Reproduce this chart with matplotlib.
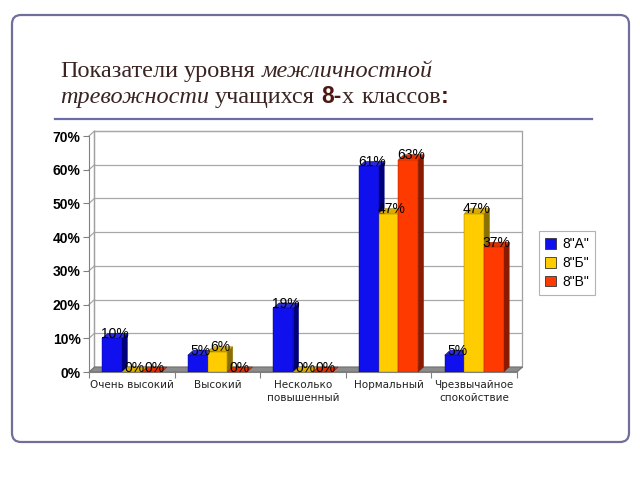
import matplotlib
matplotlib.use('Agg')
import matplotlib.pyplot as plt
from matplotlib.patches import Polygon, FancyBboxPatch, Patch
from matplotlib.transforms import IdentityTransform
from matplotlib.lines import Line2D

# ---------------- data ----------------
categories = ['Очень высокий', 'Высокий', 'Несколько\nповышенный',
              'Нормальный', 'Чрезвычайное\nспокойствие']
series_names = ['8"А"', '8"Б"', '8"В"']
class_a = [10, 5, 19, 61, 5]
class_b = [0, 6, 0, 47, 47]
class_v = [0, 0, 0, 63, 37]
series_values = [class_a, class_b, class_v]
y_ticks = [0, 10, 20, 30, 40, 50, 60, 70]
y_tick_labels = ['0%', '10%', '20%', '30%', '40%', '50%', '60%', '70%']

front_colors = ['#1010ee', '#ffcc00', '#ff3a00']
side_colors = ['#00007a', '#8a7000', '#8a1a00']
top_colors = ['#2a2ad8', '#d8ac00', '#e03000']

fig = plt.figure(figsize=(6.4, 4.8), dpi=100)
fig.patch.set_facecolor('white')

# outer rounded frame
frame = FancyBboxPatch((12, 38), 617, 427, boxstyle='round,pad=0,rounding_size=9',
                       transform=IdentityTransform(), facecolor='none',
                       edgecolor='#6f6f9a', linewidth=1.6)
fig.patches.append(frame)

# title rule
fig.lines.append(Line2D([55, 592], [361, 361], transform=IdentityTransform(),
                        color='#6c6ca6', linewidth=1.6))

# ---------------- title (mixed styles) ----------------
renderer = fig.canvas.get_renderer()
tcol = '#3a2422'
bcol = '#4e1712'
serif = 'Liberation Serif'
fs = 17.5


def put(x, y, s, **kw):
    t = fig.text(x, y, s, transform=IdentityTransform(), va='baseline', ha='left', **kw)
    return t.get_window_extent(renderer).x1


def space_w(**kw):
    a = fig.text(0, 0, 'нн', transform=IdentityTransform(), **kw)
    b = fig.text(0, 0, 'н н', transform=IdentityTransform(), **kw)
    w = b.get_window_extent(renderer).width - a.get_window_extent(renderer).width
    a.remove(); b.remove()
    return w


sp = space_w(family=serif, fontsize=fs)
x = 60
x = put(x, 403, 'Показатели', family=serif, fontsize=fs, color=tcol) + sp
x = put(x, 403, 'уровня', family=serif, fontsize=fs, color=tcol) + sp
x = put(x, 403, 'межличностной', family=serif, style='italic', fontsize=fs, color=tcol)
x = 60
x = put(x, 377, 'тревожности', family=serif, style='italic', fontsize=fs, color=tcol) + sp
x = put(x, 377, 'учащихся', family=serif, fontsize=fs, color=tcol) + sp
x = put(x, 377, '8-', family='Liberation Sans', weight='bold', fontsize=fs - 1, color=bcol)
x = put(x, 377, 'х', family=serif, fontsize=fs, color=tcol) + sp * 1.3
x = put(x, 377, 'классов', family=serif, fontsize=fs, color=tcol)
x = put(x, 377, ':', family='Liberation Sans', weight='bold', fontsize=fs - 1, color=bcol)

# ---------------- chart ----------------
ax = fig.add_axes([89 / 640, 108 / 480, 428 / 640, 236 / 480])
ax.set_xlim(-0.5, 4.5)
ax.set_ylim(0, 70)
ax.patch.set_visible(False)

dx = 0.064
dy = 1.48
w = 0.23
offsets = [-w, 0, w]
xmin, xmax = -0.5, 4.5

# back wall
ax.add_patch(Polygon([(xmin + dx, dy), (xmax + dx, dy), (xmax + dx, 70 + dy), (xmin + dx, 70 + dy)],
                     closed=True, facecolor='white', edgecolor='#a0a0a0', lw=0.9,
                     zorder=0.5, clip_on=False))
for v in y_ticks[1:]:
    ax.plot([xmin + dx, xmax + dx], [v + dy, v + dy], color='#a8a8a8', lw=0.9,
            zorder=0.6, clip_on=False)
    ax.plot([xmin, xmin + dx], [v, v + dy], color='#a8a8a8', lw=0.9,
            zorder=0.6, clip_on=False)
# side wall line
ax.plot([xmin + dx, xmin + dx], [dy, 70 + dy], color='#a0a0a0', lw=0.9, zorder=0.7, clip_on=False)

# floor
ax.add_patch(Polygon([(xmin, 0), (xmax, 0), (xmax + dx, dy), (xmin + dx, dy)],
                     closed=True, facecolor='#8c8c8c', edgecolor='#707070', lw=0.8,
                     zorder=1, clip_on=False))

# bars
for i in range(len(categories)):
    for j, vals in enumerate(series_values):
        v = vals[i]
        k = i * 3 + j
        zb = 3 + k * 0.03
        xc = i + offsets[j]
        x0 = xc - w / 2
        x1 = xc + w / 2
        # side
        ax.add_patch(Polygon([(x1, 0), (x1 + dx, dy), (x1 + dx, v + dy), (x1, v)],
                             closed=True, facecolor=side_colors[j], edgecolor=side_colors[j],
                             lw=0.3, zorder=zb, clip_on=False))
        # top
        ax.add_patch(Polygon([(x0, v), (x1, v), (x1 + dx, v + dy), (x0 + dx, v + dy)],
                             closed=True, facecolor=top_colors[j], edgecolor=side_colors[j],
                             lw=0.3, zorder=zb + 0.01, clip_on=False))
        # front
        if v > 0:
            ax.bar(xc, v, width=w, color=front_colors[j], edgecolor=side_colors[j],
                   lw=0.3, zorder=zb + 0.02)
        ax.text(xc + dx / 2, v + 1.3, f'{v}%', ha='center', va='center', fontsize=10,
                family='Liberation Sans', color='black', zorder=20, clip_on=False)

# axes styling
for s in ['top', 'right']:
    ax.spines[s].set_visible(False)
ax.spines['left'].set_color('#808080')
ax.spines['bottom'].set_color('#808080')
ax.spines['left'].set_zorder(2)
ax.spines['bottom'].set_zorder(2)

ax.set_yticks(y_ticks)
ax.set_yticklabels(y_tick_labels, fontsize=10, weight='bold', family='Liberation Sans')
ax.tick_params(axis='y', length=4, width=0.8, color='#808080', pad=2)

ax.set_xticks(range(len(categories)))
ax.set_xticklabels(categories, fontsize=7.5, family='DejaVu Sans', color='#222222',
                   linespacing=1.3)
ax.tick_params(axis='x', which='major', length=0, pad=6)
ax.set_xticks([xmin + t for t in range(len(categories) + 1)], minor=True)
ax.tick_params(axis='x', which='minor', length=4, width=0.8, color='#808080')

# legend
handles = [Patch(facecolor=front_colors[j], edgecolor='#333333', lw=0.6) for j in range(3)]
leg = fig.legend(handles, series_names, loc='upper left', bbox_to_anchor=(539 / 640, 1 - 231 / 480),
                 borderaxespad=0, handlelength=0.8, handleheight=0.8,
                 handletextpad=0.4, labelspacing=0.35, borderpad=0.45, fancybox=False,
                 prop={'family': 'Liberation Sans', 'size': 10})
leg.get_frame().set_edgecolor('#a0a0a0')
leg.get_frame().set_linewidth(0.8)

fig.savefig('out.png', dpi=100)
